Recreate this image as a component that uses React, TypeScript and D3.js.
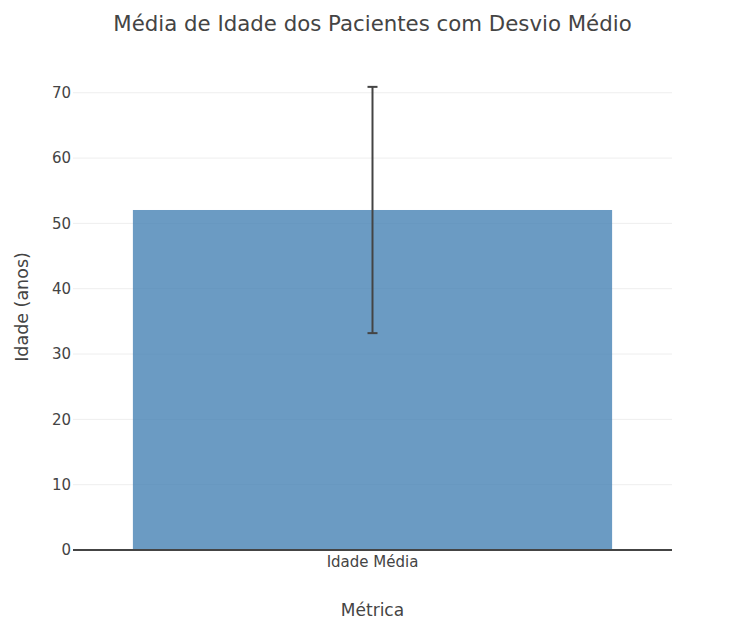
import React, { useRef, useEffect } from "react";
import * as d3 from "d3";

// Chart data
const categories = ["Idade Média"];
const meanAges = [52.05];
const stdDevs = [18.85];
const yTicks = [0, 10, 20, 30, 40, 50, 60, 70];

const App = () => {
  const svgRef = useRef<SVGSVGElement>(null);

  useEffect(() => {
    const svg = d3.select(svgRef.current);
    svg.selectAll("*").remove();

    const width = 738;
    const height = 620;
    const margin = { top: 64, right: 66, bottom: 70, left: 73 };
    const font = "'DejaVu Sans', verdana, arial, sans-serif";
    const textColor = "#444";

    svg.attr("width", width).attr("height", height);

    const x = d3
      .scaleBand()
      .domain(categories)
      .range([margin.left, width - margin.right])
      .paddingInner(0.2)
      .paddingOuter(0.1);

    const y = d3
      .scaleLinear()
      .domain([0, 74.4])
      .range([height - margin.bottom, margin.top]);

    // Gridlines
    svg
      .append("g")
      .selectAll("line")
      .data(yTicks.filter((t) => t !== 0))
      .join("line")
      .attr("x1", margin.left)
      .attr("x2", width - margin.right)
      .attr("y1", (d) => y(d))
      .attr("y2", (d) => y(d))
      .attr("stroke", "#eee")
      .attr("stroke-width", 1);

    // Bars
    svg
      .append("g")
      .selectAll("rect")
      .data(categories)
      .join("rect")
      .attr("x", (d) => x(d)!)
      .attr("width", x.bandwidth())
      .attr("y", (d, i) => y(meanAges[i]))
      .attr("height", (d, i) => y(0) - y(meanAges[i]))
      .attr("fill", "steelblue")
      .attr("fill-opacity", 0.8);

    // Zero line
    svg
      .append("line")
      .attr("x1", margin.left)
      .attr("x2", width - margin.right)
      .attr("y1", y(0))
      .attr("y2", y(0))
      .attr("stroke", "#444")
      .attr("stroke-width", 2);

    // Error bars
    const err = svg.append("g").attr("stroke", "#444").attr("stroke-width", 2);
    categories.forEach((c, i) => {
      const cx = x(c)! + x.bandwidth() / 2;
      const top = y(meanAges[i] + stdDevs[i]);
      const bottom = y(meanAges[i] - stdDevs[i]);
      err.append("line").attr("x1", cx).attr("x2", cx).attr("y1", top).attr("y2", bottom);
      err.append("line").attr("x1", cx - 5).attr("x2", cx + 5).attr("y1", top).attr("y2", top);
      err
        .append("line")
        .attr("x1", cx - 5)
        .attr("x2", cx + 5)
        .attr("y1", bottom)
        .attr("y2", bottom);
    });

    // Y tick labels
    svg
      .append("g")
      .selectAll("text")
      .data(yTicks)
      .join("text")
      .attr("x", margin.left - 2)
      .attr("y", (d) => y(d))
      .attr("dy", "0.36em")
      .attr("text-anchor", "end")
      .attr("font-family", font)
      .attr("font-size", 15)
      .attr("fill", textColor)
      .text((d) => d);

    // X tick labels
    svg
      .append("g")
      .selectAll("text")
      .data(categories)
      .join("text")
      .attr("x", (d) => x(d)! + x.bandwidth() / 2)
      .attr("y", y(0) + 17)
      .attr("text-anchor", "middle")
      .attr("font-family", font)
      .attr("font-size", 15)
      .attr("fill", textColor)
      .text((d) => d);

    const plotCenterX = (margin.left + width - margin.right) / 2;

    // Title
    svg
      .append("text")
      .attr("x", plotCenterX)
      .attr("y", 31)
      .attr("text-anchor", "middle")
      .attr("font-family", font)
      .attr("font-size", 21.3)
      .attr("fill", textColor)
      .text("Média de Idade dos Pacientes com Desvio Médio");

    // Axis titles
    svg
      .append("text")
      .attr("x", plotCenterX)
      .attr("y", 616)
      .attr("text-anchor", "middle")
      .attr("font-family", font)
      .attr("font-size", 17)
      .attr("fill", textColor)
      .text("Métrica");

    svg
      .append("text")
      .attr("transform", `translate(28,${(margin.top + height - margin.bottom) / 2}) rotate(-90)`)
      .attr("text-anchor", "middle")
      .attr("font-family", font)
      .attr("font-size", 17.5)
      .attr("fill", textColor)
      .text("Idade (anos)");
  }, []);

  return (
    <svg
      ref={svgRef}
      style={{ position: "absolute", left: 0, top: 0, background: "#fff" }}
    ></svg>
  );
};

export default App;
